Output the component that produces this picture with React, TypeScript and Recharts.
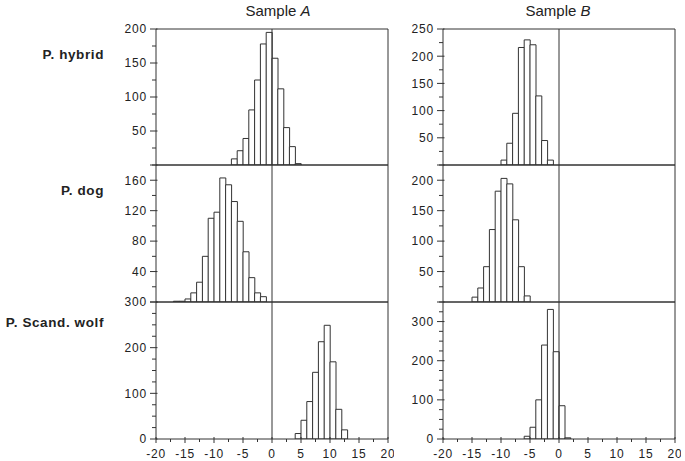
import React from 'react';
import { BarChart, Bar, XAxis, YAxis, ReferenceLine } from 'recharts';

// histogram bins (lower edge, width 1) and counts
const hybridABins = [-7, -6, -5, -4, -3, -2, -1, 0, 1, 2, 3, 4];
const hybridACounts = [9, 21, 39, 81, 125, 178, 195, 157, 112, 55, 27, 2];

const hybridBBins = [-10, -9, -8, -7, -6, -5, -4, -3, -2];
const hybridBCounts = [9, 40, 95, 216, 230, 221, 127, 45, 9];

const dogABins = [-17, -16, -15, -14, -13, -12, -11, -10, -9, -8, -7, -6, -5, -4, -3, -2];
const dogACounts = [1, 1, 4, 12, 26, 60, 110, 118, 163, 154, 132, 106, 66, 32, 12, 7];

const dogBBins = [-15, -14, -13, -12, -11, -10, -9, -8, -7, -6];
const dogBCounts = [8, 23, 58, 119, 182, 203, 194, 135, 58, 10];

const wolfABins = [4, 5, 6, 7, 8, 9, 10, 11, 12];
const wolfACounts = [12, 41, 82, 146, 213, 249, 169, 65, 20];

const wolfBBins = [-6, -5, -4, -3, -2, -1, 0, 1];
const wolfBCounts = [7, 30, 100, 240, 331, 223, 85, 3];

const xTicks = [-20, -17.5, -15, -12.5, -10, -7.5, -5, -2.5, 0, 2.5, 5, 7.5, 10, 12.5, 15, 17.5, 20];
const xLabels = [-20, -15, -10, -5, 0, 5, 10, 15, 20];

const rowLabels = ['P. hybrid', 'P. dog', 'P. Scand. wolf'];

const FONT = '"Liberation Sans", Arial, Helvetica, sans-serif';
const INK = '#333';
const TEXT = '#222';

const COL_X = [156, 443];
const PLOT_W = 232;
const ROW_Y = [29, 165, 302, 439];
const Y_W = 50;
const M = 6;

function range(max: number, step: number) {
  const out: number[] = [];
  for (let v = 0; v <= max + 1e-9; v += step) out.push(v);
  return out;
}

interface PanelProps {
  bins: number[];
  counts: number[];
  col: number;
  row: number;
  yMax: number;
  yStep: number;
  yLabels: number[];
}

function Panel({ bins, counts, col, row, yMax, yStep, yLabels }: PanelProps) {
  const bottom = row === 2;
  const plotH = ROW_Y[row + 1] - ROW_Y[row];
  const xH = bottom ? 30 : 1;
  const width = Y_W + PLOT_W + M;
  const height = M + plotH + xH + (bottom ? 0 : M);
  const data = bins.map((b, i) => ({ x: b + 0.5, n: counts[i] }));
  const yTicks = range(yMax, yStep);

  const renderYTick = (p: any) => {
    const ax = p.x + 4 + 5;
    const v = p.payload.value;
    const labelled = yLabels.includes(v) || v === 0;
    return (
      <g>
        <line x1={ax - (labelled ? 6 : 4)} x2={ax + (labelled ? 1.5 : 0)} y1={p.y} y2={p.y} stroke={INK} />
        {yLabels.includes(v) && (
          <text x={p.x} y={p.y + 4.3} textAnchor="end" fontSize={12} letterSpacing={0.8} fill={TEXT} fontFamily={FONT}>
            {v}
          </text>
        )}
      </g>
    );
  };

  const renderXTick = (p: any) => {
    const ay = p.y - 4 - 2;
    const v = p.payload.value;
    const major = xLabels.includes(v);
    return (
      <g>
        <line x1={p.x} x2={p.x} y1={ay - (major ? 2 : 0)} y2={ay + (major ? 4 : 3)} stroke={INK} />
        {major && (
          <text x={p.x} y={ay + 18.5} textAnchor="middle" fontSize={12} letterSpacing={0.8} fill={TEXT} fontFamily={FONT}>
            {v}
          </text>
        )}
      </g>
    );
  };

  return (
    <div style={{ position: 'absolute', left: COL_X[col] - Y_W, top: ROW_Y[row] - M, width, height }}>
      <BarChart
        width={width}
        height={height}
        data={data}
        margin={{ top: M, right: M, left: 0, bottom: bottom ? 0 : M }}
        barCategoryGap={0}
        barGap={0}
      >
        <XAxis
          type="number"
          dataKey="x"
          domain={[-20, 20]}
          ticks={xTicks}
          interval={0}
          height={xH}
          tickSize={4}
          tickMargin={2}
          tickLine={false}
          tick={bottom ? renderXTick : false}
          axisLine={{ stroke: INK }}
          allowDataOverflow
        />
        <YAxis
          type="number"
          domain={[0, yMax]}
          ticks={yTicks}
          interval={0}
          width={Y_W}
          tickSize={4}
          tickMargin={5}
          tickLine={false}
          tick={renderYTick}
          axisLine={{ stroke: INK }}
          allowDataOverflow
        />
        <Bar dataKey="n" fill="#fff" stroke={INK} strokeWidth={1} isAnimationActive={false} />
        <ReferenceLine x={0} stroke={INK} />
        <ReferenceLine x={20} stroke={INK} />
        <ReferenceLine y={yMax} stroke={INK} />
      </BarChart>
    </div>
  );
}

export default function App() {
  return (
    <div style={{ position: 'absolute', left: 0, top: 0, width: 685, height: 461, background: '#fff' }}>
      <svg width={685} height={461} style={{ position: 'absolute', left: 0, top: 0 }}>
        <text x={278} y={16} textAnchor="middle" fontSize={15} fill={TEXT} fontFamily={FONT}>
          Sample <tspan fontStyle="italic">A</tspan>
        </text>
        <text x={558} y={16} textAnchor="middle" fontSize={15} fill={TEXT} fontFamily={FONT}>
          Sample <tspan fontStyle="italic">B</tspan>
        </text>
        {rowLabels.map((t, i) => (
          <text
            key={t}
            x={104}
            y={[59.3, 195, 326.7][i]}
            textAnchor="end"
            fontSize={13.5}
            fontWeight="bold"
            letterSpacing={0.6}
            fill={TEXT}
            fontFamily={FONT}
          >
            {t}
          </text>
        ))}
      </svg>
      <Panel bins={hybridABins} counts={hybridACounts} col={0} row={0} yMax={200} yStep={25} yLabels={[50, 100, 150, 200]} />
      <Panel bins={hybridBBins} counts={hybridBCounts} col={1} row={0} yMax={250} yStep={25} yLabels={[50, 100, 150, 200, 250]} />
      <Panel bins={dogABins} counts={dogACounts} col={0} row={1} yMax={180} yStep={20} yLabels={[40, 80, 120, 160]} />
      <Panel bins={dogBBins} counts={dogBCounts} col={1} row={1} yMax={225} yStep={25} yLabels={[50, 100, 150, 200]} />
      <Panel bins={wolfABins} counts={wolfACounts} col={0} row={2} yMax={300} yStep={25} yLabels={[0, 100, 200, 300]} />
      <Panel bins={wolfBBins} counts={wolfBCounts} col={1} row={2} yMax={350} yStep={25} yLabels={[0, 100, 200, 300]} />
    </div>
  );
}
